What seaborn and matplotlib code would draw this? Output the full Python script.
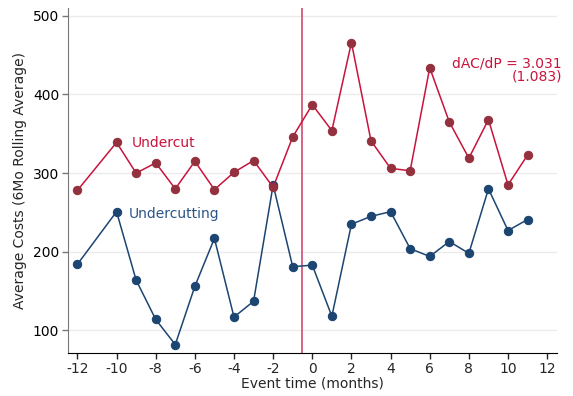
import numpy as np
import pandas as pd
import matplotlib
matplotlib.use("Agg")
import matplotlib.pyplot as plt
import seaborn as sns

event_time = list(range(-12, 12))
undercut = [278, np.nan, 339, 300, 313, 280, 315, 279, 301, 316, 282, 346,
            387, 354, 466, 341, 306, 303, 434, 365, 319, 368, 285, 323]
undercutting = [184, np.nan, 251, 164, 114, 82, 156, 217, 117, 137, 285, 181,
                183, 118, 235, 245, 251, 204, 194, 213, 198, 280, 227, 241]
x_ticks = [-12, -10, -8, -6, -4, -2, 0, 2, 4, 6, 8, 10, 12]
y_ticks = [100, 200, 300, 400, 500]

df = pd.DataFrame({"t": event_time, "Undercut": undercut, "Undercutting": undercutting})
df = df.dropna()

sns.set_style("white")
plt.rcParams['font.family'] = ['DejaVu Sans']

fig, ax = plt.subplots(figsize=(5.73, 3.96), dpi=100)
fig.subplots_adjust(left=0.118, right=0.972, bottom=0.108, top=0.98)

red_line = "#c8143c"
red_mark = "#94313e"
blue = "#1c4571"

for v in y_ticks:
    ax.axhline(v, color="#ebebeb", lw=1.0, zorder=0)

sns.lineplot(data=df, x="t", y="Undercut", ax=ax, color=red_line, lw=1.1,
             marker="o", markersize=6, markerfacecolor=red_mark,
             markeredgecolor=red_mark, zorder=3)
sns.lineplot(data=df, x="t", y="Undercutting", ax=ax, color=blue, lw=1.1,
             marker="o", markersize=6, markerfacecolor=blue,
             markeredgecolor=blue, zorder=2)

ax.axvline(-0.5, color="#d6587a", lw=1.3, zorder=1)

ax.text(-9.2, 338, "Undercut", color=red_line, fontsize=10, va="center", ha="left")
ax.text(-9.4, 248, "Undercutting", color="#2a5585", fontsize=10, va="center", ha="left")
ax.text(12.75, 431, "dAC/dP = 3.031\n(1.083)", color=red_line, fontsize=10,
        va="center", ha="right", linespacing=0.95)

ax.set_xlim(-12.5, 12.5)
ax.set_ylim(71, 510)
ax.set_xticks(x_ticks)
ax.set_yticks(y_ticks)
ax.set_xticklabels([str(v) for v in x_ticks])
ax.set_xlabel("Event time (months)", fontsize=10, labelpad=1)
ax.set_ylabel("Average Costs (6Mo Rolling Average)", fontsize=10, labelpad=4)
ax.tick_params(axis="both", labelsize=10, length=4, width=1, direction="out",
               left=True, bottom=True, pad=2)
ax.tick_params(axis="y", colors="#777777", labelcolor="black")
for s in ["top", "right"]:
    ax.spines[s].set_visible(False)
ax.spines["left"].set_color("#777777")
ax.spines["bottom"].set_color("black")

fig.savefig("out.png", dpi=100)
